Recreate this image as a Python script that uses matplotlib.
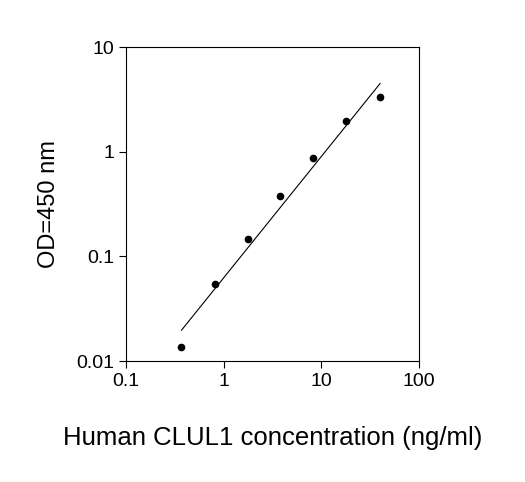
import matplotlib
matplotlib.use("Agg")
import matplotlib.pyplot as plt

conc = [0.37, 0.81, 1.76, 3.8, 8.3, 18, 40]
od = [0.0136, 0.054, 0.148, 0.38, 0.88, 1.97, 3.35]
fit_x = [0.37, 40]
fit_y = [0.0197, 4.5]

plt.rcParams['font.family'] = ['Liberation Sans', 'DejaVu Sans']
fig = plt.figure(figsize=(5.25, 4.82), dpi=100)
ax = fig.add_axes([0.24, 0.251, 0.558, 0.651])
ax.set_xscale('log'); ax.set_yscale('log')
ax.set_xlim(0.1, 100); ax.set_ylim(0.01, 10)
ax.plot(fit_x, fit_y, color='black', lw=0.8)
ax.plot(conc, od, 'o', color='black', ms=4.5)
ax.set_xticks([0.1, 1, 10, 100]); ax.set_xticklabels(['0.1', '1', '10', '100'])
ax.set_yticks([0.01, 0.1, 1, 10]); ax.set_yticklabels(['0.01', '0.1', '1', '10'])
ax.minorticks_off()
ax.tick_params(labelsize=14, direction='out', length=5)
ax.set_xlabel('Human CLUL1 concentration (ng/ml)', fontsize=18.5, labelpad=26)
ax.set_ylabel('OD=450 nm', fontsize=17, labelpad=12)
for s in ax.spines.values():
    s.set_linewidth(0.8)
fig.savefig('out.png', dpi=100)
